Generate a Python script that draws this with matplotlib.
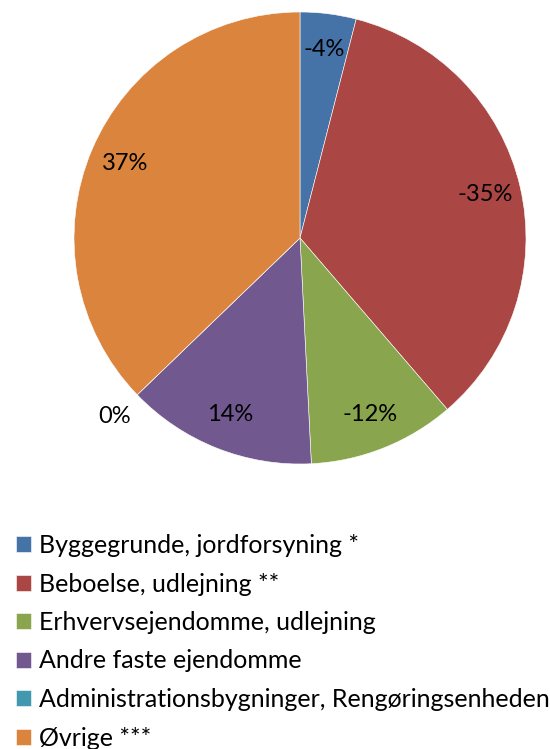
import matplotlib
matplotlib.use("Agg")
import matplotlib.pyplot as plt
import numpy as np

categories = ["Byggegrunde, jordforsyning *", "Beboelse, udlejning **",
              "Erhvervsejendomme, udlejning", "Andre faste ejendomme",
              "Administrationsbygninger, Rengøringsenheden", "Øvrige ***"]
shares = [4.0, 34.7, 10.5, 13.6, 0.0, 37.2]
value_labels = ["-4%", "-35%", "-12%", "14%", "0%", "37%"]
colors = ["#4572A7", "#AA4643", "#89A54E", "#71588F", "#4198AF", "#DB843D"]

plt.rcParams['font.family'] = ['Lato', 'DejaVu Sans']

W, H = 550, 749
fig = plt.figure(figsize=(W / 100, H / 100), dpi=100)
cx, cy, R = 300, 238, 226
ax = fig.add_axes([(cx - R) / W, (H - cy - R) / H, 2 * R / W, 2 * R / H])
wedges, _ = ax.pie(shares, colors=colors, startangle=90, counterclock=False,
                   radius=1, wedgeprops=dict(edgecolor="white", linewidth=0.4))
ax.set_xlim(-1, 1)
ax.set_ylim(-1, 1)
ax.axis("off")

for w, lab, s in zip(wedges, value_labels, shares):
    mid = np.deg2rad((w.theta1 + w.theta2) / 2)
    r = 0.84 if s > 0 else 1.14
    ax.text(r * np.cos(mid), r * np.sin(mid), lab, ha="center", va="center",
            fontsize=17, color="black")

leg = fig.legend(wedges, categories, loc="upper left",
                 bbox_to_anchor=(6 / W, 1 - 524 / H), frameon=False,
                 fontsize=18, handlelength=0.6, handleheight=0.6,
                 handletextpad=0.32, labelspacing=0.62, borderaxespad=0)

fig.savefig("out.png", dpi=100)
